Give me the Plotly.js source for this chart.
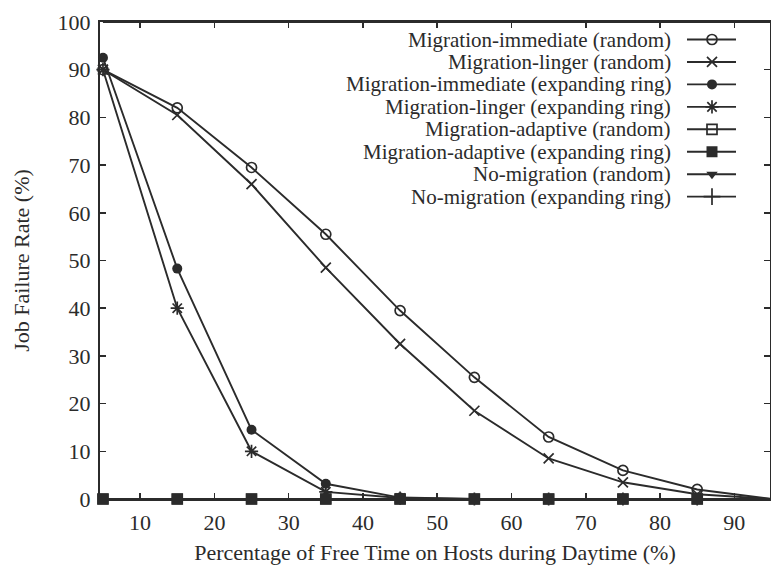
<!DOCTYPE html>
<html>
<head>
<meta charset="utf-8">
<script src="https://cdn.plot.ly/plotly-3.0.1.min.js"></script>
<style>
  html, body { margin: 0; padding: 0; background: #fff; }
  #chart { width: 771px; height: 566px; }
</style>
</head>
<body>
<div id="chart"></div>
<script>
// Percentage of free time on hosts during daytime (%)
const freeTime = [5, 15, 25, 35, 45, 55, 65, 75, 85, 95];

// Job failure rate (%) for each policy
const migImmediateRandom = [90, 82, 69.5, 55.5, 39.5, 25.5, 13, 6, 2, 0];
const migLingerRandom    = [90, 80.5, 66, 48.5, 32.5, 18.5, 8.5, 3.5, 1, 0];
const migImmediateRing   = [92.5, 48.3, 14.5, 3.2, 0.3, 0, 0, 0, 0, 0];
const migLingerRing      = [90, 40, 10, 1.5, 0.2, 0, 0, 0, 0, 0];
const migAdaptiveRandom  = [0, 0, 0, 0, 0, 0, 0, 0, 0, 0];
const migAdaptiveRing    = [0, 0, 0, 0, 0, 0, 0, 0, 0, 0];
const noMigRandom        = [100, 100, 100, 100, 100, 100, 100, 100, 100, 100];
const noMigRing          = [100, 100, 100, 100, 100, 100, 100, 100, 100, 100];

const seriesNames = [
  'Migration-immediate (random)',
  'Migration-linger (random)',
  'Migration-immediate (expanding ring)',
  'Migration-linger (expanding ring)',
  'Migration-adaptive (random)',
  'Migration-adaptive (expanding ring)',
  'No-migration (random)',
  'No-migration (expanding ring)'
];
const seriesValues = [
  migImmediateRandom, migLingerRandom, migImmediateRing, migLingerRing,
  migAdaptiveRandom, migAdaptiveRing, noMigRandom, noMigRing
];

const ink = '#2b2b2b';
const font = 'Liberation Serif, Times New Roman, serif';
const fs = 22;
const keyFs = 21;

const markerStyles = [
  {symbol: 'circle-open', size: 10, line: {width: 1.7, color: ink}},
  {symbol: 'x-thin-open', size: 10, line: {width: 1.7, color: ink}},
  {symbol: 'circle', size: 10, line: {width: 0}},
  {symbol: 'asterisk-open', size: 11, line: {width: 1.7, color: ink}},
  {symbol: 'square-open', size: 10, line: {width: 1.7, color: ink}},
  {symbol: 'square', size: 11, line: {width: 0}},
  {symbol: 'triangle-down', size: 10, line: {width: 0}},
  {symbol: 'cross-thin-open', size: 12, line: {width: 1.7, color: ink}}
];

// Points lying on the top border are not marked (line only), as the
// plotting program suppresses point symbols that touch the frame there.
const onBorder = v => v.every(y => y >= 100);

const traces = [];
seriesNames.forEach((name, i) => {
  traces.push({
    type: 'scatter', mode: onBorder(seriesValues[i]) ? 'lines' : 'lines+markers',
    name: name, cliponaxis: false,
    x: freeTime, y: seriesValues[i],
    line: {color: ink, width: 1.9},
    marker: Object.assign({color: ink}, markerStyles[i]),
    showlegend: false, hoverinfo: 'skip'
  });
});

// Key in the upper right: right-aligned labels followed by a line sample
// with the series marker, placed on an overlay axis measured in pixels.
const keyTop = 39.5, keyStep = 22.45;
const keyLineX = [687, 736], keyMarkX = 712, keyTextX = 672;
const annotations = [];
seriesNames.forEach((name, i) => {
  const ky = keyTop + i * keyStep;
  traces.push({
    type: 'scatter', mode: 'lines', x: keyLineX, y: [ky, ky],
    xaxis: 'x2', yaxis: 'y2', line: {color: ink, width: 1.9},
    showlegend: false, hoverinfo: 'skip'
  });
  traces.push({
    type: 'scatter', mode: 'markers', x: [keyMarkX], y: [ky],
    xaxis: 'x2', yaxis: 'y2',
    marker: Object.assign({color: ink}, markerStyles[i]),
    showlegend: false, hoverinfo: 'skip'
  });
  annotations.push({
    xref: 'x2', yref: 'y2', x: keyTextX, y: ky,
    xanchor: 'right', yanchor: 'middle', showarrow: false, borderpad: 0,
    text: name, font: {family: font, size: keyFs, color: ink}
  });
});

const layout = {
  width: 771, height: 566,
  margin: {l: 100, r: 1, t: 22, b: 67},
  paper_bgcolor: '#fff', plot_bgcolor: '#fff',
  showlegend: false,
  font: {family: font, size: fs, color: ink},
  xaxis: {
    range: [4.6, 94.8], tickvals: [10, 20, 30, 40, 50, 60, 70, 80, 90],
    ticks: 'inside', ticklen: 6, tickwidth: 1.5, tickcolor: ink,
    showline: true, linecolor: ink, linewidth: 2, mirror: 'ticks',
    showgrid: false, zeroline: false,
    ticklabelstandoff: 3,
    tickfont: {family: font, size: fs, color: ink},
    title: {text: 'Percentage of Free Time on Hosts during Daytime (%)',
            font: {family: font, size: fs, color: ink}, standoff: 10}
  },
  yaxis: {
    range: [0, 100], tickvals: [0, 10, 20, 30, 40, 50, 60, 70, 80, 90, 100],
    ticks: 'inside', ticklen: 6, tickwidth: 1.5, tickcolor: ink,
    showline: true, linecolor: ink, linewidth: 2, mirror: 'ticks',
    showgrid: false, zeroline: false,
    ticklabelstandoff: 3,
    tickfont: {family: font, size: fs, color: ink},
    title: {text: 'Job Failure Rate (%)',
            font: {family: font, size: fs, color: ink}, standoff: 22}
  },
  xaxis2: {overlaying: 'x', range: [100, 770], visible: false, fixedrange: true},
  yaxis2: {overlaying: 'y', range: [499, 22], visible: false, fixedrange: true},
  annotations: annotations
};

Plotly.newPlot('chart', traces, layout, {staticPlot: true, displayModeBar: false});
</script>
</body>
</html>
